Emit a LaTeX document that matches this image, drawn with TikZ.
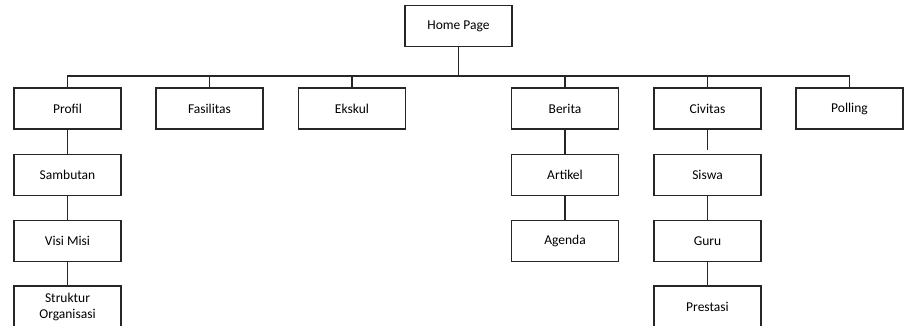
\documentclass[tikz,border=0pt]{standalone}
\usepackage{fontspec}
\setmainfont{Carlito}
\begin{document}
\begin{tikzpicture}[x=1pt,y=1pt,
  box/.style={draw=black!85,line width=1.1pt,minimum width=107pt,minimum height=41pt,inner sep=0pt,align=center,font=\fontsize{13.5}{16}\selectfont},
  conn/.style={draw=black!85,line width=1.1pt}]
\useasboundingbox (0,0) rectangle (907,-326);
\node[box] (home) at (458.5,-26) {Home Page};
\coordinate (bus) at (0,-76);
\node[box] (profil) at (67.5,-108.5) {Profil};
\node[box] (fasilitas) at (209.5,-108.5) {Fasilitas};
\node[box] (ekskul) at (352,-108.5) {Ekskul};
\node[box] (berita) at (565,-108.5) {Berita};
\node[box] (civitas) at (707.5,-108.5) {Civitas};
\node[box] (polling) at (849.5,-108.5) {Polling};
\node[box] (sambutan) at (67.5,-175) {Sambutan};
\node[box] (visi) at (67.5,-241) {Visi Misi};
\node[box] (struktur) at (67.5,-306.5) {Struktur\\Organisasi};
\node[box] (artikel) at (565,-175) {Artikel};
\node[box] (agenda) at (565,-241) {Agenda};
\node[box] (siswa) at (707.5,-175) {Siswa};
\node[box] (guru) at (707.5,-241) {Guru};
\node[box] (prestasi) at (707.5,-306.5) {Prestasi};
\draw[conn,line width=1.8pt] (home.south) -- (home.south |- bus);
\draw[conn] (profil.north) -- (profil.north |- bus) -- (polling.north |- bus) -- (polling.north);
\foreach \n in {fasilitas,ekskul,berita,civitas}
  \draw[conn] (\n.north) -- (\n.north |- bus);
\draw[conn] (profil) -- (sambutan);
\draw[conn] (sambutan) -- (visi);
\draw[conn] (visi) -- (struktur);
\draw[conn] (berita) -- (artikel);
\draw[conn] (artikel) -- (agenda);
\draw[conn,shorten >=4pt] (civitas) -- (siswa);
\draw[conn] (siswa) -- (guru);
\draw[conn] (guru) -- (prestasi);
\end{tikzpicture}
\end{document}
